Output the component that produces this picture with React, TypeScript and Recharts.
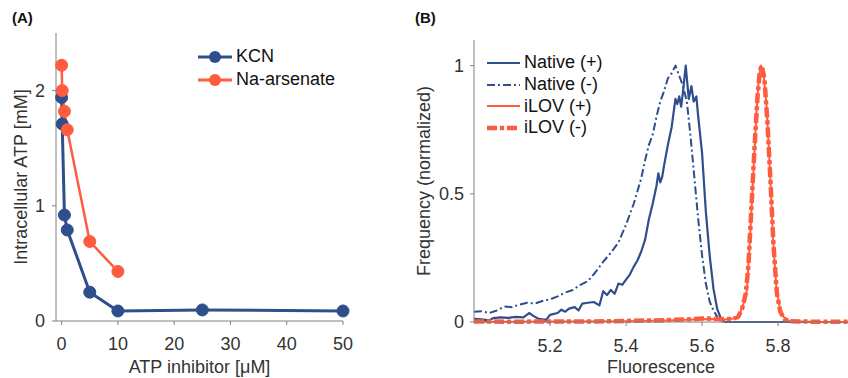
import { Legend, Line, LineChart, XAxis, YAxis } from "recharts"

const FONT = '"Liberation Sans", Arial, Helvetica, sans-serif'
const BLUE = "#2E4E8C"
const RED = "#FF5B3F"
const AXIS = "#808080"
const TEXT = "#333333"

// (A) ATP vs inhibitor dose
const kcnDose = [0, 0.1, 0.5, 1, 5, 10, 25, 50]
const kcnAtp = [1.94, 1.71, 0.92, 0.79, 0.25, 0.087, 0.096, 0.087]
const arsenateDose = [0, 0.1, 0.5, 1, 5, 10]
const arsenateAtp = [2.22, 2.0, 1.82, 1.66, 0.69, 0.43]
const doseTicks = [0, 10, 20, 30, 40, 50]
const atpTicks = [0, 1, 2]

// (B) fluorescence histograms, [fluorescence, frequency]
const nativePlus: [number, number][] = [
  [5.0, 0.012], [5.02, 0.01], [5.04, 0.006], [5.05, 0.015], [5.07, 0.018], [5.09, 0.016],
  [5.11, 0.02], [5.13, 0.018], [5.145, 0.035], [5.155, 0.025], [5.17, 0.012], [5.19, 0.008],
  [5.2, 0.028], [5.22, 0.035], [5.23, 0.048], [5.24, 0.04], [5.25, 0.052], [5.265, 0.058],
  [5.275, 0.045], [5.285, 0.072], [5.3, 0.075], [5.315, 0.078], [5.33, 0.065], [5.34, 0.12],
  [5.35, 0.105], [5.36, 0.125], [5.37, 0.11], [5.38, 0.15], [5.39, 0.145], [5.4, 0.165],
  [5.41, 0.185], [5.42, 0.215], [5.43, 0.24], [5.44, 0.275], [5.45, 0.32], [5.46, 0.4],
  [5.47, 0.46], [5.48, 0.53], [5.485, 0.58], [5.49, 0.545], [5.495, 0.565], [5.5, 0.61],
  [5.51, 0.69], [5.52, 0.76], [5.53, 0.87], [5.535, 0.85], [5.54, 0.88], [5.545, 0.84],
  [5.55, 0.9], [5.557, 1.0], [5.565, 0.87], [5.572, 0.92], [5.578, 0.86], [5.585, 0.88],
  [5.59, 0.8], [5.6, 0.66], [5.61, 0.43], [5.62, 0.26], [5.63, 0.13], [5.64, 0.05],
  [5.65, 0.012], [5.66, 0], [5.8, 0], [6.0, 0],
]
const nativeMinus: [number, number][] = [
  [5.0, 0.04], [5.02, 0.042], [5.04, 0.035], [5.06, 0.045], [5.08, 0.06], [5.1, 0.058],
  [5.12, 0.068], [5.14, 0.075], [5.16, 0.072], [5.18, 0.082], [5.2, 0.088], [5.22, 0.1],
  [5.24, 0.115], [5.26, 0.125], [5.28, 0.145], [5.3, 0.16], [5.32, 0.195], [5.34, 0.235],
  [5.36, 0.27], [5.38, 0.31], [5.4, 0.38], [5.42, 0.46], [5.44, 0.56], [5.45, 0.63],
  [5.46, 0.69], [5.47, 0.73], [5.48, 0.8], [5.49, 0.86], [5.5, 0.9], [5.51, 0.95],
  [5.52, 0.97], [5.53, 1.0], [5.54, 0.96], [5.55, 0.92], [5.56, 0.86], [5.57, 0.72],
  [5.58, 0.56], [5.59, 0.4], [5.6, 0.26], [5.61, 0.15], [5.62, 0.08], [5.63, 0.045],
  [5.64, 0.02], [5.65, 0.005], [5.66, 0], [5.8, 0], [6.0, 0],
]
const ilovPlus: [number, number][] = [
  [5.0, 0], [5.2, 0.002], [5.4, 0.003], [5.5, 0.006], [5.58, 0.01], [5.62, 0.012],
  [5.66, 0.01], [5.69, 0.015], [5.7, 0.034], [5.71, 0.075], [5.718, 0.125], [5.726, 0.32],
  [5.735, 0.58], [5.744, 0.84], [5.75, 0.96], [5.755, 1.0], [5.762, 0.97], [5.77, 0.84],
  [5.779, 0.58], [5.787, 0.32], [5.796, 0.125], [5.805, 0.05], [5.814, 0.02], [5.83, 0.004],
  [5.9, 0], [6.0, 0],
]
const ilovMinus: [number, number][] = [
  [5.0, 0.002], [5.1, 0.001], [5.2, 0.002], [5.3, 0.002], [5.4, 0.004], [5.5, 0.007],
  [5.56, 0.01], [5.6, 0.014], [5.64, 0.012], [5.68, 0.012], [5.695, 0.02], [5.705, 0.05],
  [5.715, 0.11], [5.722, 0.22], [5.73, 0.45], [5.738, 0.68], [5.746, 0.88], [5.752, 0.98],
  [5.757, 1.0], [5.764, 0.95], [5.772, 0.78], [5.78, 0.55], [5.788, 0.3], [5.797, 0.11],
  [5.806, 0.04], [5.816, 0.012], [5.83, 0.003], [5.9, 0.001], [6.0, 0.001],
]
const fluorTicks = [5.2, 5.4, 5.6, 5.8]
const freqTicks = [0, 0.5, 1]

const zip = (xs: number[], ys: number[]) => xs.map((x, i) => ({ x, y: ys[i] }))
const fromPairs = (p: [number, number][]) => p.map(([x, y]) => ({ x, y }))

const seriesB = [
  { name: "Native (+)", data: nativePlus, color: BLUE, width: 2.2, dash: undefined },
  { name: "Native (-)", data: nativeMinus, color: BLUE, width: 2, dash: "8 3 2 3" },
  { name: "iLOV (+)", data: ilovPlus, color: RED, width: 2, dash: undefined },
  { name: "iLOV (-)", data: ilovMinus, color: RED, width: 4.5, dash: "10 3 4 3" },
]

const tickStyle = { fill: TEXT, fontSize: 18, fontFamily: FONT }

function yTitle(text: string, dx: number) {
  return (props: any) => {
    const vb = props.viewBox || { x: 0, y: 0, width: 0, height: 0 }
    const cx = vb.x + dx
    const cy = vb.y + vb.height / 2
    return (
      <text
        x={cx}
        y={cy}
        transform={`rotate(-90 ${cx} ${cy})`}
        textAnchor="middle"
        dominantBaseline="central"
        fill={TEXT}
        fontSize={18}
        fontFamily={FONT}
      >
        {text}
      </text>
    )
  }
}

const legendA = (props: any) => (
  <div style={{ fontFamily: FONT, fontSize: 18, color: "#111" }}>
    {(props.payload || []).map((e: any) => (
      <div key={e.value} style={{ display: "flex", alignItems: "center", height: 23 }}>
        <svg width={38} height={20}>
          <line x1={2} x2={36} y1={10} y2={10} stroke={e.color} strokeWidth={3} />
          <circle cx={19} cy={10} r={6} fill={e.color} />
        </svg>
        <span style={{ marginLeft: 2 }}>{e.value}</span>
      </div>
    ))}
  </div>
)

const legendB = (props: any) => (
  <div style={{ fontFamily: FONT, fontSize: 18, color: "#111" }}>
    {(props.payload || []).map((e: any) => {
      const s = seriesB.find((d) => d.name === e.value) || seriesB[0]
      return (
        <div key={e.value} style={{ display: "flex", alignItems: "center", height: 21.7 }}>
          <svg width={36} height={20}>
            <line x1={1} x2={34} y1={10} y2={10} stroke={s.color} strokeWidth={s.width} strokeDasharray={s.dash} />
          </svg>
          <span style={{ marginLeft: 2 }}>{e.value}</span>
        </div>
      )
    })}
  </div>
)

export default function App() {
  return (
    <div style={{ position: "absolute", left: 0, top: 0, width: 848, height: 378, background: "#fff", overflow: "hidden", fontFamily: FONT }}>
      <div style={{ position: "absolute", left: 12, top: 9, fontSize: 15, fontWeight: "bold", color: "#111" }}>(A)</div>
      <div style={{ position: "absolute", left: 415, top: 9, fontSize: 15, fontWeight: "bold", color: "#111" }}>(B)</div>

      <div style={{ position: "absolute", left: 0, top: 0 }}>
        <LineChart width={370} height={378} margin={{ top: 33, right: 27, bottom: 0, left: 0 }}>
          <XAxis
            dataKey="x"
            type="number"
            domain={[-1, 50]}
            ticks={doseTicks}
            stroke={AXIS}
            tick={tickStyle}
            tickSize={4}
            tickMargin={12}
            height={57}
            label={{ value: "ATP inhibitor [\u03bcM]", position: "insideBottom", offset: 5, fill: TEXT, fontSize: 18, fontFamily: FONT }}
          />
          <YAxis
            dataKey="y"
            type="number"
            domain={[0, 2.5]}
            ticks={atpTicks}
            stroke={AXIS}
            tick={tickStyle}
            tickSize={4}
            tickMargin={7}
            width={56}
            label={{ value: "Intracellular ATP [mM]", content: yTitle("Intracellular ATP [mM]", 21) }}
          />
          <Legend layout="vertical" align="center" verticalAlign="middle" wrapperStyle={{ left: 196, top: 45, width: "auto" }} content={legendA} />
          <Line
            data={zip(kcnDose, kcnAtp)}
            dataKey="y"
            name="KCN"
            stroke={BLUE}
            strokeWidth={3}
            dot={{ r: 6, fill: BLUE, stroke: BLUE, strokeWidth: 1 }}
            isAnimationActive={false}
          />
          <Line
            data={zip(arsenateDose, arsenateAtp)}
            dataKey="y"
            name="Na-arsenate"
            stroke={RED}
            strokeWidth={2.5}
            dot={{ r: 6, fill: RED, stroke: RED, strokeWidth: 1 }}
            isAnimationActive={false}
          />
        </LineChart>
      </div>

      <div style={{ position: "absolute", left: 400, top: 0 }}>
        <LineChart width={448} height={378} margin={{ top: 40, right: 0, bottom: 0, left: 0 }}>
          <XAxis
            dataKey="x"
            type="number"
            domain={[5, 5.984]}
            allowDataOverflow
            ticks={fluorTicks}
            tickFormatter={(v: number) => v.toFixed(1)}
            stroke={AXIS}
            tick={tickStyle}
            tickSize={4}
            tickMargin={13}
            height={56}
            label={{ value: "Fluorescence", position: "insideBottom", offset: 5, fill: TEXT, fontSize: 18, fontFamily: FONT }}
          />
          <YAxis
            dataKey="y"
            type="number"
            domain={[0, 1.1]}
            ticks={freqTicks}
            tickFormatter={(v: number) => `${v}`}
            stroke={AXIS}
            tick={tickStyle}
            tickSize={4}
            tickMargin={6}
            width={74}
            label={{ value: "Frequency (normalized)", content: yTitle("Frequency (normalized)", 24) }}
          />
          <Legend layout="vertical" align="center" verticalAlign="middle" wrapperStyle={{ left: 86, top: 52, width: "auto" }} content={legendB} />
          {seriesB.map((s) => (
            <Line
              key={s.name}
              data={fromPairs(s.data)}
              dataKey="y"
              name={s.name}
              stroke={s.color}
              strokeWidth={s.width}
              strokeDasharray={s.dash}
              strokeLinejoin="round"
              dot={false}
              isAnimationActive={false}
            />
          ))}
        </LineChart>
      </div>
    </div>
  )
}
